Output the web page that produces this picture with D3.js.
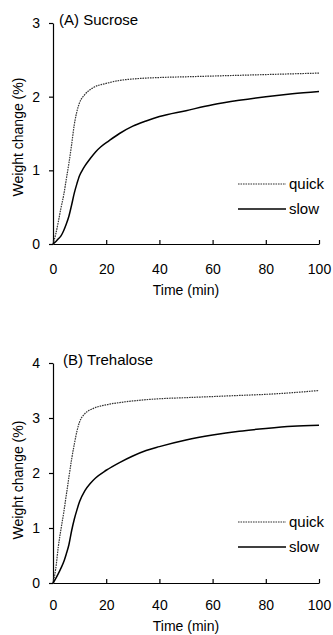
<!DOCTYPE html>
<html>
<head>
<meta charset="utf-8">
<script src="https://cdn.jsdelivr.net/npm/d3@7"></script>
<style>
  body { margin: 0; background: #fff; }
  svg { font-family: "Liberation Sans", Arial, sans-serif; }
  .axis path, .axis line { stroke: #000; stroke-width: 1.2; }
  .axis text { font-size: 14px; fill: #000; }
</style>
</head>
<body>
<div id="chart"></div>
<script>
// time points (min) and weight change (%)
var sucroseQuickT = [0, 1, 2, 3, 4, 5, 6, 7, 8, 9, 10, 12, 15, 20, 25, 30, 40, 50, 60, 70, 80, 90, 100];
var sucroseQuickV = [0, 0.13, 0.3, 0.49, 0.66, 0.88, 1.1, 1.35, 1.62, 1.8, 1.92, 2.03, 2.12, 2.18, 2.22, 2.24, 2.26, 2.27, 2.28, 2.29, 2.3, 2.31, 2.32];

var sucroseSlowT = [0, 1, 2, 3, 4, 5, 6, 7, 8, 9, 10, 11, 12, 14, 16, 18, 21, 25, 30, 35, 40, 50, 60, 70, 80, 90, 100];
var sucroseSlowV = [0, 0.03, 0.07, 0.11, 0.18, 0.27, 0.38, 0.53, 0.69, 0.82, 0.93, 1.0, 1.06, 1.16, 1.25, 1.32, 1.4, 1.5, 1.6, 1.67, 1.73, 1.81, 1.89, 1.95, 2.0, 2.04, 2.07];

var trehaloseQuickT = [0, 1, 2, 3, 4, 5, 6, 7, 8, 9, 10, 12, 15, 20, 25, 30, 40, 50, 60, 70, 80, 90, 100];
var trehaloseQuickV = [0, 0.25, 0.66, 0.98, 1.27, 1.6, 1.93, 2.25, 2.52, 2.76, 2.93, 3.08, 3.17, 3.24, 3.28, 3.31, 3.35, 3.37, 3.39, 3.41, 3.43, 3.46, 3.5];

var trehaloseSlowT = [0, 1, 2, 3, 4, 5, 6, 7, 8, 9, 10, 12, 14, 16, 20, 25, 30, 35, 40, 50, 60, 70, 80, 90, 100];
var trehaloseSlowV = [0, 0.08, 0.17, 0.27, 0.38, 0.53, 0.7, 0.95, 1.16, 1.33, 1.48, 1.68, 1.81, 1.91, 2.05, 2.19, 2.31, 2.41, 2.48, 2.6, 2.69, 2.76, 2.81, 2.85, 2.87];

var xTicks = [0, 20, 40, 60, 80, 100];
var sucroseYTicks = [0, 1, 2, 3];
var trehaloseYTicks = [0, 1, 2, 3, 4];
var seriesNames = ['quick', 'slow'];

var svg = d3.select('#chart').append('svg')
    .attr('width', 333)
    .attr('height', 635);

function zip(t, v) {
    return t.map(function(d, i) { return {t: d, v: v[i]}; });
}

function drawPanel(p) {
    var xScale = d3.scaleLinear().domain([0, 100]).range([53, 319]);
    var yScale = d3.scaleLinear().domain([0, p.yMax]).range([p.bottom, p.top]);

    // Axis setup
    var xAxis = d3.axisBottom(xScale).tickValues(xTicks).tickFormat(d3.format('d'))
        .tickSizeInner(-4).tickSizeOuter(0).tickPadding(p.xPad);
    svg.append('g').attr('class', 'axis')
        .attr('transform', `translate(0,${p.bottom})`)
        .call(xAxis);

    var yAxis = d3.axisLeft(yScale).tickValues(p.yTicks).tickFormat(d3.format('d'))
        .tickSize(4).tickSizeOuter(0).tickPadding(9);
    svg.append('g').attr('class', 'axis')
        .attr('transform', 'translate(53,0)')
        .call(yAxis);

    var line = d3.line()
        .curve(d3.curveMonotoneX)
        .x(function(d) { return xScale(d.t); })
        .y(function(d) { return yScale(d.v); });

    svg.append('path')
        .datum(zip(p.quickT, p.quickV))
        .attr('d', line)
        .attr('fill', 'none')
        .attr('stroke', '#333')
        .attr('stroke-width', 1.2)
        .attr('stroke-dasharray', '1.6,0.9');

    svg.append('path')
        .datum(zip(p.slowT, p.slowV))
        .attr('d', line)
        .attr('fill', 'none')
        .attr('stroke', '#000')
        .attr('stroke-width', 1.5);

    // panel title
    svg.append('text')
        .attr('x', p.titleX).attr('y', p.top + 2)
        .attr('font-size', 15)
        .text(p.title);

    // axis titles
    svg.append('text')
        .attr('x', 186).attr('y', p.xTitleY)
        .attr('text-anchor', 'middle')
        .attr('font-size', 14)
        .text('Time (min)');

    svg.append('text')
        .attr('transform', `translate(23,${p.yTitleY}) rotate(-90)`)
        .attr('text-anchor', 'middle')
        .attr('font-size', 14)
        .text('Weight change (%)');

    // legend
    seriesNames.forEach(function(name, i) {
        var y = p.legendY + i * 25;
        svg.append('line')
            .attr('x1', 238).attr('x2', 286)
            .attr('y1', y).attr('y2', y)
            .attr('stroke', i === 0 ? '#333' : '#000')
            .attr('stroke-width', i === 0 ? 1.2 : 1.5)
            .attr('stroke-dasharray', i === 0 ? '1.6,0.9' : null);
        svg.append('text')
            .attr('x', 289).attr('y', y + 5)
            .attr('font-size', 15)
            .text(name);
    });
}

drawPanel({
    title: '(A) Sucrose', titleX: 59,
    yMax: 3, yTicks: sucroseYTicks, top: 23, bottom: 244, xPad: 20,
    xTitleY: 295, yTitleY: 137, legendY: 184,
    quickT: sucroseQuickT, quickV: sucroseQuickV,
    slowT: sucroseSlowT, slowV: sucroseSlowV
});

drawPanel({
    title: '(B) Trehalose', titleX: 63,
    yMax: 4, yTicks: trehaloseYTicks, top: 363, bottom: 583, xPad: 17,
    xTitleY: 631, yTitleY: 480, legendY: 522,
    quickT: trehaloseQuickT, quickV: trehaloseQuickV,
    slowT: trehaloseSlowT, slowV: trehaloseSlowV
});
</script>
</body>
</html>
